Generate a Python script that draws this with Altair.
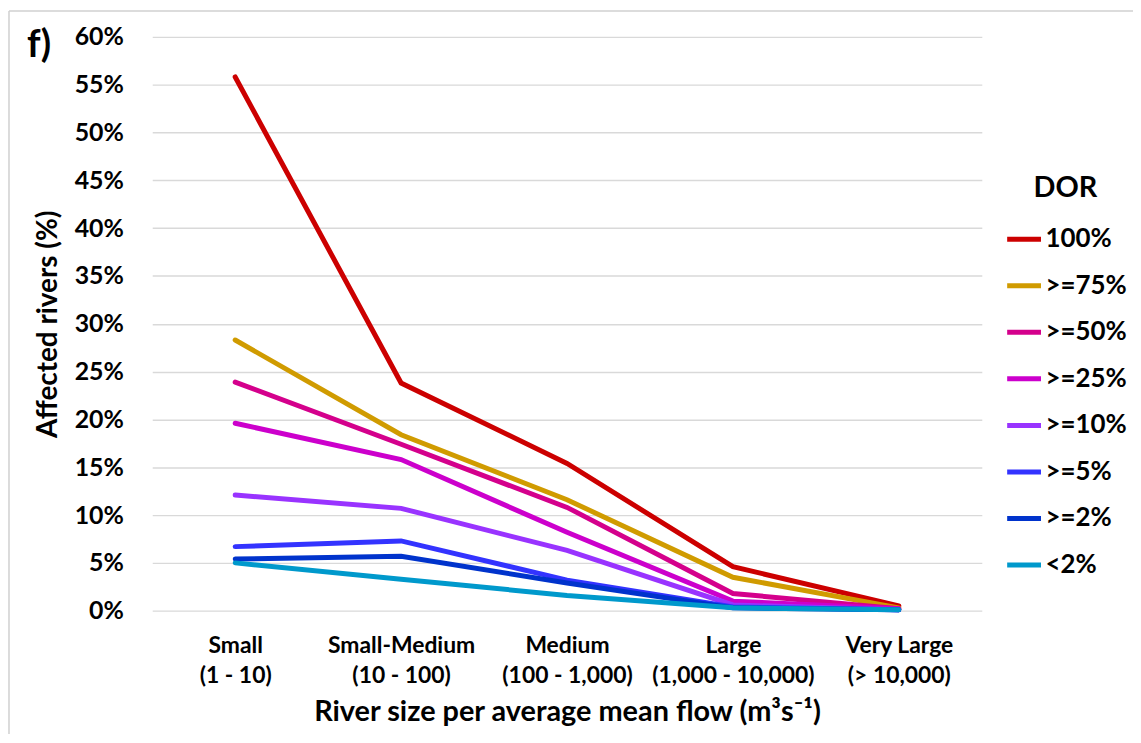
import altair as alt
import pandas as pd

# Categories (x axis)
size_names = ["Small", "Small-Medium", "Medium", "Large", "Very Large"]
size_ranges = ["(1 - 10)", "(10 - 100)", "(100 - 1,000)", "(1,000 - 10,000)", "(> 10,000)"]

# DOR classes (legend order)
dor_classes = ["100%", ">=75%", ">=50%", ">=25%", ">=10%", ">=5%", ">=2%", "<2%"]
dor_colors = ["#CC0000", "#D09B00", "#D4008C", "#CC00CC", "#9933FF", "#3333FF", "#0033CC", "#0099CC"]

# Affected rivers (%) per DOR class, one value per river size
v_100 = [55.8, 23.8, 15.4, 4.6, 0.5]
v_75 = [28.3, 18.4, 11.6, 3.5, 0.3]
v_50 = [23.9, 17.4, 10.8, 1.8, 0.2]
v_25 = [19.6, 15.8, 8.2, 1.0, 0.2]
v_10 = [12.1, 10.7, 6.3, 0.6, 0.1]
v_5 = [6.7, 7.3, 3.2, 0.4, 0.1]
v_2 = [5.4, 5.7, 2.9, 0.3, 0.1]
v_lt2 = [5.0, 3.3, 1.6, 0.3, 0.1]

# y tick values (%)
y_ticks = [0, 5, 10, 15, 20, 25, 30, 35, 40, 45, 50, 55, 60]

series = [v_100, v_75, v_50, v_25, v_10, v_5, v_2, v_lt2]

rows = []
for cls, vals in zip(dor_classes, series):
    for i, (nm, rg) in enumerate(zip(size_names, size_ranges)):
        rows.append({"size": nm + "|" + rg, "order": i, "DOR": cls, "value": vals[i] / 100.0})
df = pd.DataFrame(rows)
x_domain = [n + "|" + r for n, r in zip(size_names, size_ranges)]

FONT = "Lato"
W, H = 834, 577

lines = alt.Chart(df).mark_line(strokeWidth=5, strokeCap="round", strokeJoin="miter").encode(
    x=alt.X("size:N", sort=x_domain, scale=alt.Scale(domain=x_domain, type="point", padding=0.5),
            axis=alt.Axis(title="River size per average mean flow (m³s⁻¹)",
                          labelExpr="split(datum.label, '|')",
                          labelAngle=0, labelFontSize=23, labelFont=FONT, labelFontWeight="bold",
                          labelColor="black", labelLineHeight=30, labelPadding=24,
                          labelBaseline="top",
                          ticks=False, domain=False, grid=False,
                          titleFont=FONT, titleFontSize=29, titleFontWeight="bold", titleColor="black",
                          titleY=101, titleBaseline="middle")),
    y=alt.Y("value:Q", scale=alt.Scale(domain=[0, 0.6], nice=False),
            axis=alt.Axis(title="Affected rivers (%)", format=".0%",
                          values=[t / 100.0 for t in y_ticks],
                          labelFontSize=25, labelFont=FONT, labelFontWeight="bold", labelColor="black",
                          labelPadding=29, ticks=False, domain=False,
                          grid=True, gridColor="#d9d9d9", gridWidth=1.3,
                          titleFont=FONT, titleFontSize=28, titleFontWeight="bold", titleColor="black",
                          titleX=-104, titleBaseline="middle")),
    color=alt.Color("DOR:N", scale=alt.Scale(domain=dor_classes, range=dor_colors),
                    legend=alt.Legend(title="DOR", orient="none", legendX=857, legendY=138,
                                      symbolType="stroke", symbolSize=1156, symbolStrokeWidth=5,
                                      titleFont=FONT, titleFontSize=29, titleFontWeight="bold",
                                      titleColor="black", titlePadding=17, titleAnchor="middle",
                                      labelFont=FONT, labelFontSize=26, labelFontWeight="bold",
                                      labelColor="black", labelOffset=2, rowPadding=13.8)),
    order=alt.Order("order:Q"),
)

panel_label = alt.Chart(pd.DataFrame({"t": ["f)"]})).mark_text(
    font=FONT, fontSize=38, fontWeight="bold", color="black", align="left", baseline="middle"
).encode(x=alt.value(-126), y=alt.value(9), text="t:N")

border_top = alt.Chart(pd.DataFrame({"a": [0]})).mark_rule(color="#d0d0d0", strokeWidth=1.5).encode(
    x=alt.value(-144), x2=alt.value(1000), y=alt.value(-26))
border_left = alt.Chart(pd.DataFrame({"a": [0]})).mark_rule(color="#d0d0d0", strokeWidth=1.5).encode(
    x=alt.value(-144), y=alt.value(-26), y2=alt.value(720))

chart = alt.layer(border_top, border_left, lines, panel_label).properties(
    width=W, height=H,
    autosize=alt.AutoSizeParams(type="none"),
    padding={"left": 145, "top": 27, "right": 152, "bottom": 122},
).configure(background="white").configure_view(stroke=None)

chart.save("out.html", embed_options={"renderer": "svg", "actions": False})
